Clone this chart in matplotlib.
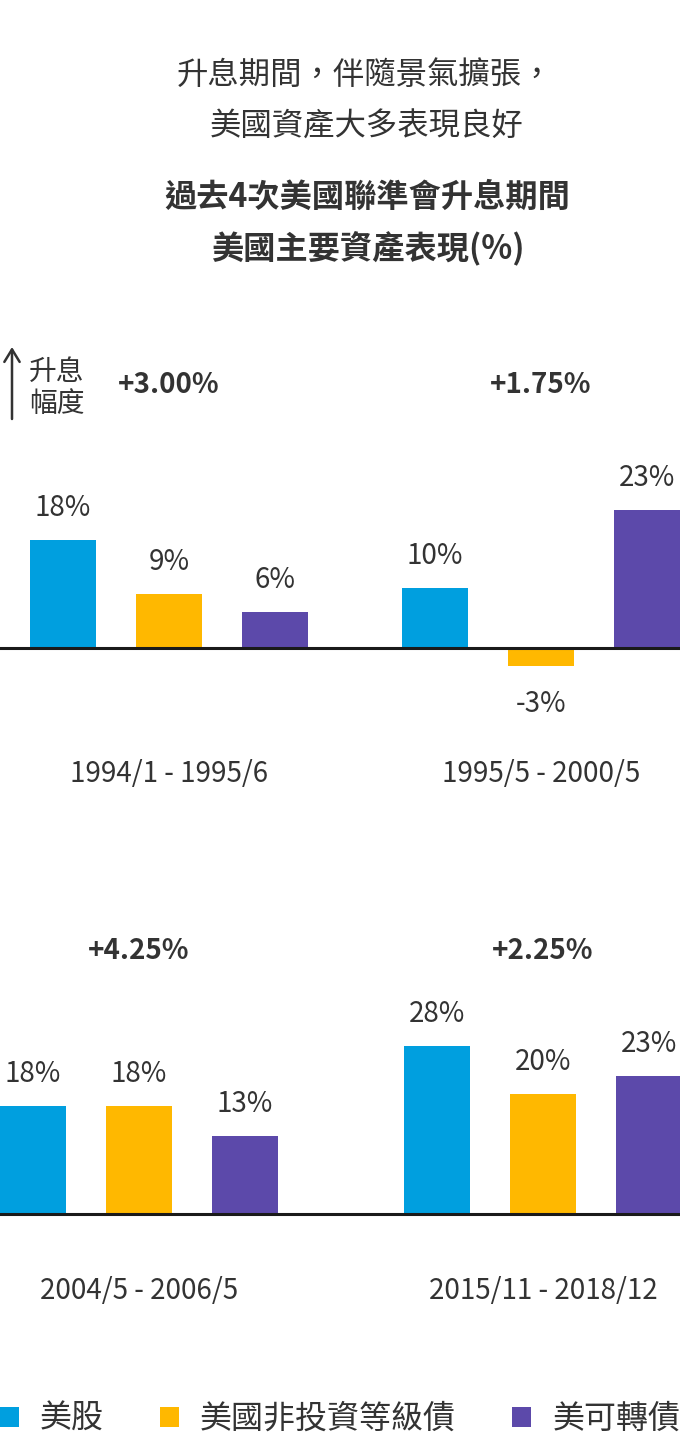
import matplotlib
matplotlib.use("Agg")
import matplotlib.pyplot as plt
from matplotlib.patches import Patch

plt.rcParams['font.family'] = ['Noto Sans CJK TC', 'DejaVu Sans']

# ---- data ----
periods = ["1994/1 - 1995/6", "1995/5 - 2000/5", "2004/5 - 2006/5", "2015/11 - 2018/12"]
rate_hikes = ["+3.00%", "+1.75%", "+4.25%", "+2.25%"]
series_names = ["美股", "美國非投資等級債", "美可轉債"]
us_equity = [18, 10, 18, 28]
us_high_yield = [9, -3, 18, 20]
us_convertible = [6, 23, 13, 23]
subtitle_lines = ["升息期間，伴隨景氣擴張，", "美國資產大多表現良好"]
title_lines = ["過去4次美國聯準會升息期間", "美國主要資產表現(%)"]
axis_note = "升息\n幅度"

# ---- style ----
colors = ["#009fdf", "#ffb800", "#5c49aa"]
TXT = "#333333"
W, H = 680, 1442
S = 6.0  # px per percent

fig = plt.figure(figsize=(W / 100, H / 100), dpi=100)
fig.patch.set_facecolor("white")

def fy(px):
    return 1 - px / H

# headings
fig.text(365 / W, fy(75), subtitle_lines[0], ha="center", va="center", fontsize=22.6, color=TXT)
fig.text(367 / W, fy(127), subtitle_lines[1], ha="center", va="center", fontsize=22.6, color=TXT)
fig.text(367 / W, fy(197), title_lines[0], ha="center", va="center", fontsize=23.2, color=TXT, fontweight="bold")
fig.text(368 / W, fy(248), title_lines[1], ha="center", va="center", fontsize=23.2, color=TXT, fontweight="bold")

series = [us_equity, us_high_yield, us_convertible]

panels = [
    # (rows top, rows bottom, baseline px, group starts, period indices, rate y, period y)
    (280, 810, 648, [30, 402], [0, 1], 385, 774),
    (880, 1340, 1214, [0, 404], [2, 3], 951, 1291),
]

for top, bot, base, starts, idxs, rate_y, per_y in panels:
    ax = fig.add_axes([0, fy(bot), 1, (bot - top) / H])
    ax.set_xlim(0, W)
    ax.set_ylim(-(bot - base) / S, (base - top) / S)
    ax.axis("off")
    ax.axhline(0, color="#1a1a1a", lw=2.2, zorder=3)
    for g, pi in enumerate(idxs):
        centers = [starts[g] + 33 + k * 106 for k in range(3)]
        for k in range(3):
            v = series[k][pi]
            ax.bar(centers[k], v, width=66, color=colors[k], zorder=2)
            off = 23 if v >= 0 else -27
            ax.annotate(f"{v}%", (centers[k], v), xytext=(0, off), textcoords="offset points",
                        ha="center", va="center", fontsize=20, color=TXT)
        gc = (centers[0] + centers[2]) / 2
        ax.text(gc, (base - rate_y) / S, rate_hikes[pi], ha="center", va="center",
                fontsize=20, fontweight="bold", color=TXT)
        ax.text(gc, (base - per_y) / S, periods[pi], ha="center", va="center",
                fontsize=20, color=TXT)
    if base == 648:
        ax.annotate("", xy=(12, (base - 347) / S), xytext=(12, (base - 419) / S),
                    arrowprops=dict(arrowstyle="->,head_length=0.9,head_width=0.55",
                                    color=TXT, lw=1.8, shrinkA=0, shrinkB=0))
        ax.text(29, (base - 388) / S, axis_note, ha="left", va="center", fontsize=20,
                color=TXT, linespacing=1.05)

handles = [Patch(facecolor=c, edgecolor="none") for c in colors]
leg = fig.legend(handles, series_names, loc="center left", bbox_to_anchor=(0.0, fy(1419)),
                 ncol=3, frameon=False, fontsize=23, handlelength=0.6, handleheight=0.6,
                 handletextpad=0.65, columnspacing=1.76, borderpad=0, borderaxespad=0)
for t in leg.get_texts():
    t.set_color(TXT)

fig.savefig("out.png", dpi=100, facecolor="white")
